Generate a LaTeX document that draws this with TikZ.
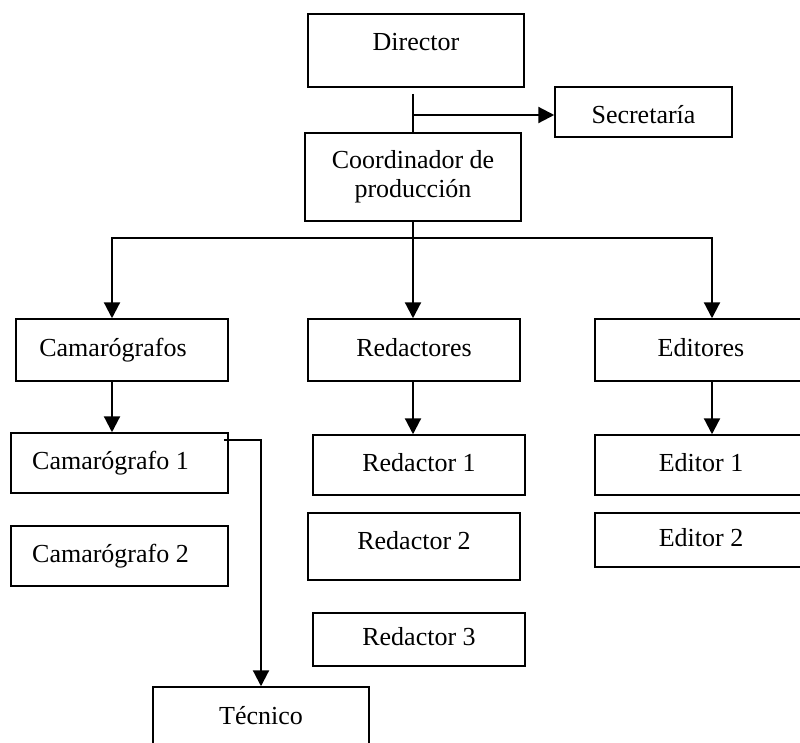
\documentclass[tikz,border=0pt]{standalone}
\usepackage{fontspec}
\setmainfont{Liberation Serif}
\usetikzlibrary{arrows.meta}

\begin{document}
\begin{tikzpicture}[x=1pt,y=-1pt,
	caja/.style={draw,rectangle,line width=1.5pt,inner sep=0pt,align=center,minimum width=212pt,font=\fontsize{26}{29}\selectfont},
	caja linea/.style={caja,text height=18pt,text depth=6pt},
	izq/.style={execute at end node={\rule{18pt}{0pt}}},
	linea/.style={line width=2.2pt},
	flecha/.style={linea,-{Triangle[length=16pt,width=16pt]}}]
	
	\useasboundingbox (0,0) rectangle (800,742);
	\clip (0,0) rectangle (800,742);
	
	% Definición de los nodos
	\node[caja linea,minimum width=216pt,minimum height=73pt,text depth=18pt] (director) at (416,50.5) {Director};
	\node[caja linea,minimum width=177pt,minimum height=50pt,text height=29pt] (secretaria) at (643.5,112) {Secretaría};
	\node[caja,minimum width=216pt,minimum height=88pt] (coordinador) at (413,177) {Coordinador de\\producción};
	
	\node[caja linea,izq,minimum height=62pt] (camarografos) at (122,350) {Camarógrafos};
	\node[caja linea,minimum height=62pt] (redactores) at (414,350) {Redactores};
	\node[caja linea,minimum height=62pt] (editores) at (701,350) {Editores};
	
	\node[caja linea,izq,minimum width=217pt,minimum height=60pt] (cam1) at (119.5,463) {Camarógrafo 1};
	\node[caja linea,izq,minimum width=217pt,minimum height=60pt] (cam2) at (119.5,556) {Camarógrafo 2};
	\node[caja linea,minimum height=60pt] (red1) at (419,465) {Redactor 1};
	\node[caja linea,minimum height=67pt,text depth=13pt] (red2) at (414,546.5) {Redactor 2};
	\node[caja linea,minimum height=53pt] (red3) at (419,639.5) {Redactor 3};
	\node[caja linea,minimum height=60pt] (ed1) at (701,465) {Editor 1};
	\node[caja linea,minimum height=54pt] (ed2) at (701,540) {Editor 2};
	\node[caja linea,minimum width=216pt,minimum height=62pt] (tecnico) at (261,718) {Técnico};
	
	% Conexiones del director
	\coordinate (bifurcacion) at (coordinador.north |- secretaria.west);
	\draw[linea] ([yshift=-6pt]director.south -| coordinador.north) -- (coordinador.north);
	\draw[flecha] ([yshift=-3pt]bifurcacion) -- ([yshift=-3pt]secretaria.west);
	
	% Conexiones del coordinador hacia las áreas
	\coordinate (bus izq) at (112,238);
	\coordinate (bus der) at (712,238);
	\draw[flecha] (coordinador.south) -- (coordinador.south |- redactores.north);
	\draw[flecha] (coordinador.south |- bus izq) -| (camarografos.north -| bus izq);
	\draw[flecha] (coordinador.south |- bus izq) -| (editores.north -| bus der);
	
	% Conexiones de cada área
	\draw[flecha] (camarografos.south -| bus izq) -- (cam1.north -| bus izq);
	\draw[flecha] (redactores.south -| coordinador.south) -- (red1.north -| coordinador.south);
	\draw[flecha] (editores.south -| bus der) -- (ed1.north -| bus der);
	\draw[flecha] ([xshift=-5pt,yshift=-8pt]cam1.north east) -| (tecnico.north);
\end{tikzpicture}
\end{document}
